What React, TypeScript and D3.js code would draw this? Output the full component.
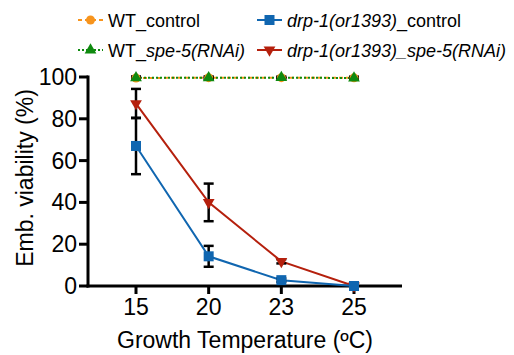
import React from "react";
import * as d3 from "d3";

// temperatures (categorical x axis)
const temps = ["15", "20", "23", "25"];
const yTicks = [0, 20, 40, 60, 80, 100];

// embryonic viability (%) and SD
const wtControl = [99.5, 99.7, 99.7, 99.6];
const wtControlErr = [0.6, 0.5, 0.4, 0.5];
const wtSpe5 = [99.6, 99.6, 99.7, 99.5];
const wtSpe5Err = [0.6, 0.5, 0.4, 0.5];
const drpControl = [67, 14.2, 2.8, 0];
const drpControlErr = [13.5, 5, 0.8, 0];
const drpSpe5 = [87.3, 40, 11.8, 0];
const drpSpe5Err = [7, 9, 1, 0];

const FONT = "'Liberation Sans', Arial, sans-serif";

const W = 514;
const H = 355;
const left = 88;
const right = 402;
const top = 77;
const bottom = 286;

type Series = {
  name: string;
  values: number[];
  err: number[];
  color: string;
  dash?: string;
  marker: "circle" | "square" | "triUp" | "triDown";
};

const series: Series[] = [
  { name: "drpSpe5", values: drpSpe5, err: drpSpe5Err, color: "#b5200d", marker: "triDown" },
  { name: "drpControl", values: drpControl, err: drpControlErr, color: "#1066b0", marker: "square" },
  { name: "wtControl", values: wtControl, err: wtControlErr, color: "#f7941d", dash: "4,3", marker: "circle" },
  { name: "wtSpe5", values: wtSpe5, err: wtSpe5Err, color: "#0f8a0f", dash: "2,2", marker: "triUp" },
];

const Marker = ({ type, x, y, color }: { type: string; x: number; y: number; color: string }) => {
  if (type === "circle") return <circle cx={x} cy={y} r={4.5} fill={color} />;
  if (type === "square") return <rect x={x - 5} y={y - 5} width={10} height={10} fill={color} />;
  const sym = d3.symbol().type(d3.symbolTriangle).size(60)();
  const rot = type === "triDown" ? 180 : 0;
  return <path d={sym || ""} transform={`translate(${x},${y}) rotate(${rot})`} fill={color} />;
};

const LegendItem = ({ x, y, s, children }: { x: number; y: number; s: Series; children: React.ReactNode }) => (
  <g>
    <line x1={x} x2={x + 25} y1={y} y2={y} stroke={s.color} strokeWidth={2} strokeDasharray={s.dash} />
    <Marker type={s.marker} x={x + 12.5} y={y} color={s.color} />
    <text x={x + 30} y={y + 6.5} fontSize={18} fontFamily={FONT} fill="#000">
      {children}
    </text>
  </g>
);

export default function App() {
  const x = d3.scalePoint<string>().domain(temps).range([136, 354]);
  const y = d3.scaleLinear().domain([0, 100]).range([bottom, top]);
  const line = d3
    .line<number>()
    .x((_, i) => x(temps[i]) as number)
    .y((d) => y(d));

  const [sDrpSpe, sDrp, sWt, sWtSpe] = series;

  return (
    <svg width={W} height={H} style={{ position: "absolute", left: 0, top: 0, background: "#fff" }}>
      {/* legend */}
      <LegendItem x={78} y={20} s={sWt}>WT_control</LegendItem>
      <LegendItem x={257} y={20} s={sDrp}>
        <tspan fontStyle="italic">drp-1(or1393)</tspan>_control
      </LegendItem>
      <LegendItem x={78} y={50} s={sWtSpe}>
        WT_<tspan fontStyle="italic">spe-5(RNAi)</tspan>
      </LegendItem>
      <LegendItem x={257} y={50} s={sDrpSpe}>
        <tspan fontStyle="italic">drp-1(or1393)_spe-5(RNAi)</tspan>
      </LegendItem>

      {/* y axis */}
      <line x1={left} x2={left} y1={top - 1.5} y2={bottom + 1.5} stroke="#000" strokeWidth={3} />
      {yTicks.map((t) => (
        <g key={t}>
          <line x1={left - 9} x2={left} y1={y(t)} y2={y(t)} stroke="#000" strokeWidth={3} />
          <text x={left - 11} y={y(t) + 8} textAnchor="end" fontSize={23} fontFamily={FONT}>
            {t}
          </text>
        </g>
      ))}
      <text
        transform={`translate(33,178) rotate(-90)`}
        textAnchor="middle"
        fontSize={23}
        fontFamily={FONT}
      >
        Emb. viability (%)
      </text>

      {/* x axis */}
      <line x1={left - 1.5} x2={right} y1={bottom} y2={bottom} stroke="#000" strokeWidth={3} />
      {temps.map((t) => (
        <g key={t}>
          <line x1={x(t)} x2={x(t)} y1={bottom} y2={bottom + 8} stroke="#000" strokeWidth={3} />
          <text x={x(t)} y={315} textAnchor="middle" fontSize={23} fontFamily={FONT}>
            {t}
          </text>
        </g>
      ))}
      <text x={(left + right) / 2} y={348} textAnchor="middle" fontSize={23} fontFamily={FONT}>
        Growth Temperature (ºC)
      </text>

      {/* lines */}
      {series.map((s) => (
        <path
          key={s.name}
          d={line(s.values) || ""}
          fill="none"
          stroke={s.color}
          strokeWidth={2}
          strokeDasharray={s.dash}
        />
      ))}

      {/* error bars */}
      {series.map((s) =>
        s.values.map((v, i) =>
          s.err[i] > 0 ? (
            <g key={`${s.name}-e${i}`} stroke="#000" strokeWidth={2.5}>
              <line x1={x(temps[i])} x2={x(temps[i])} y1={y(v - s.err[i])} y2={y(v + s.err[i])} />
              <line x1={(x(temps[i]) as number) - 5} x2={(x(temps[i]) as number) + 5} y1={y(v + s.err[i])} y2={y(v + s.err[i])} />
              <line x1={(x(temps[i]) as number) - 5} x2={(x(temps[i]) as number) + 5} y1={y(v - s.err[i])} y2={y(v - s.err[i])} />
            </g>
          ) : null
        )
      )}

      {/* markers */}
      {series.map((s) =>
        s.values.map((v, i) => (
          <Marker key={`${s.name}-m${i}`} type={s.marker} x={x(temps[i]) as number} y={y(v)} color={s.color} />
        ))
      )}
    </svg>
  );
}
